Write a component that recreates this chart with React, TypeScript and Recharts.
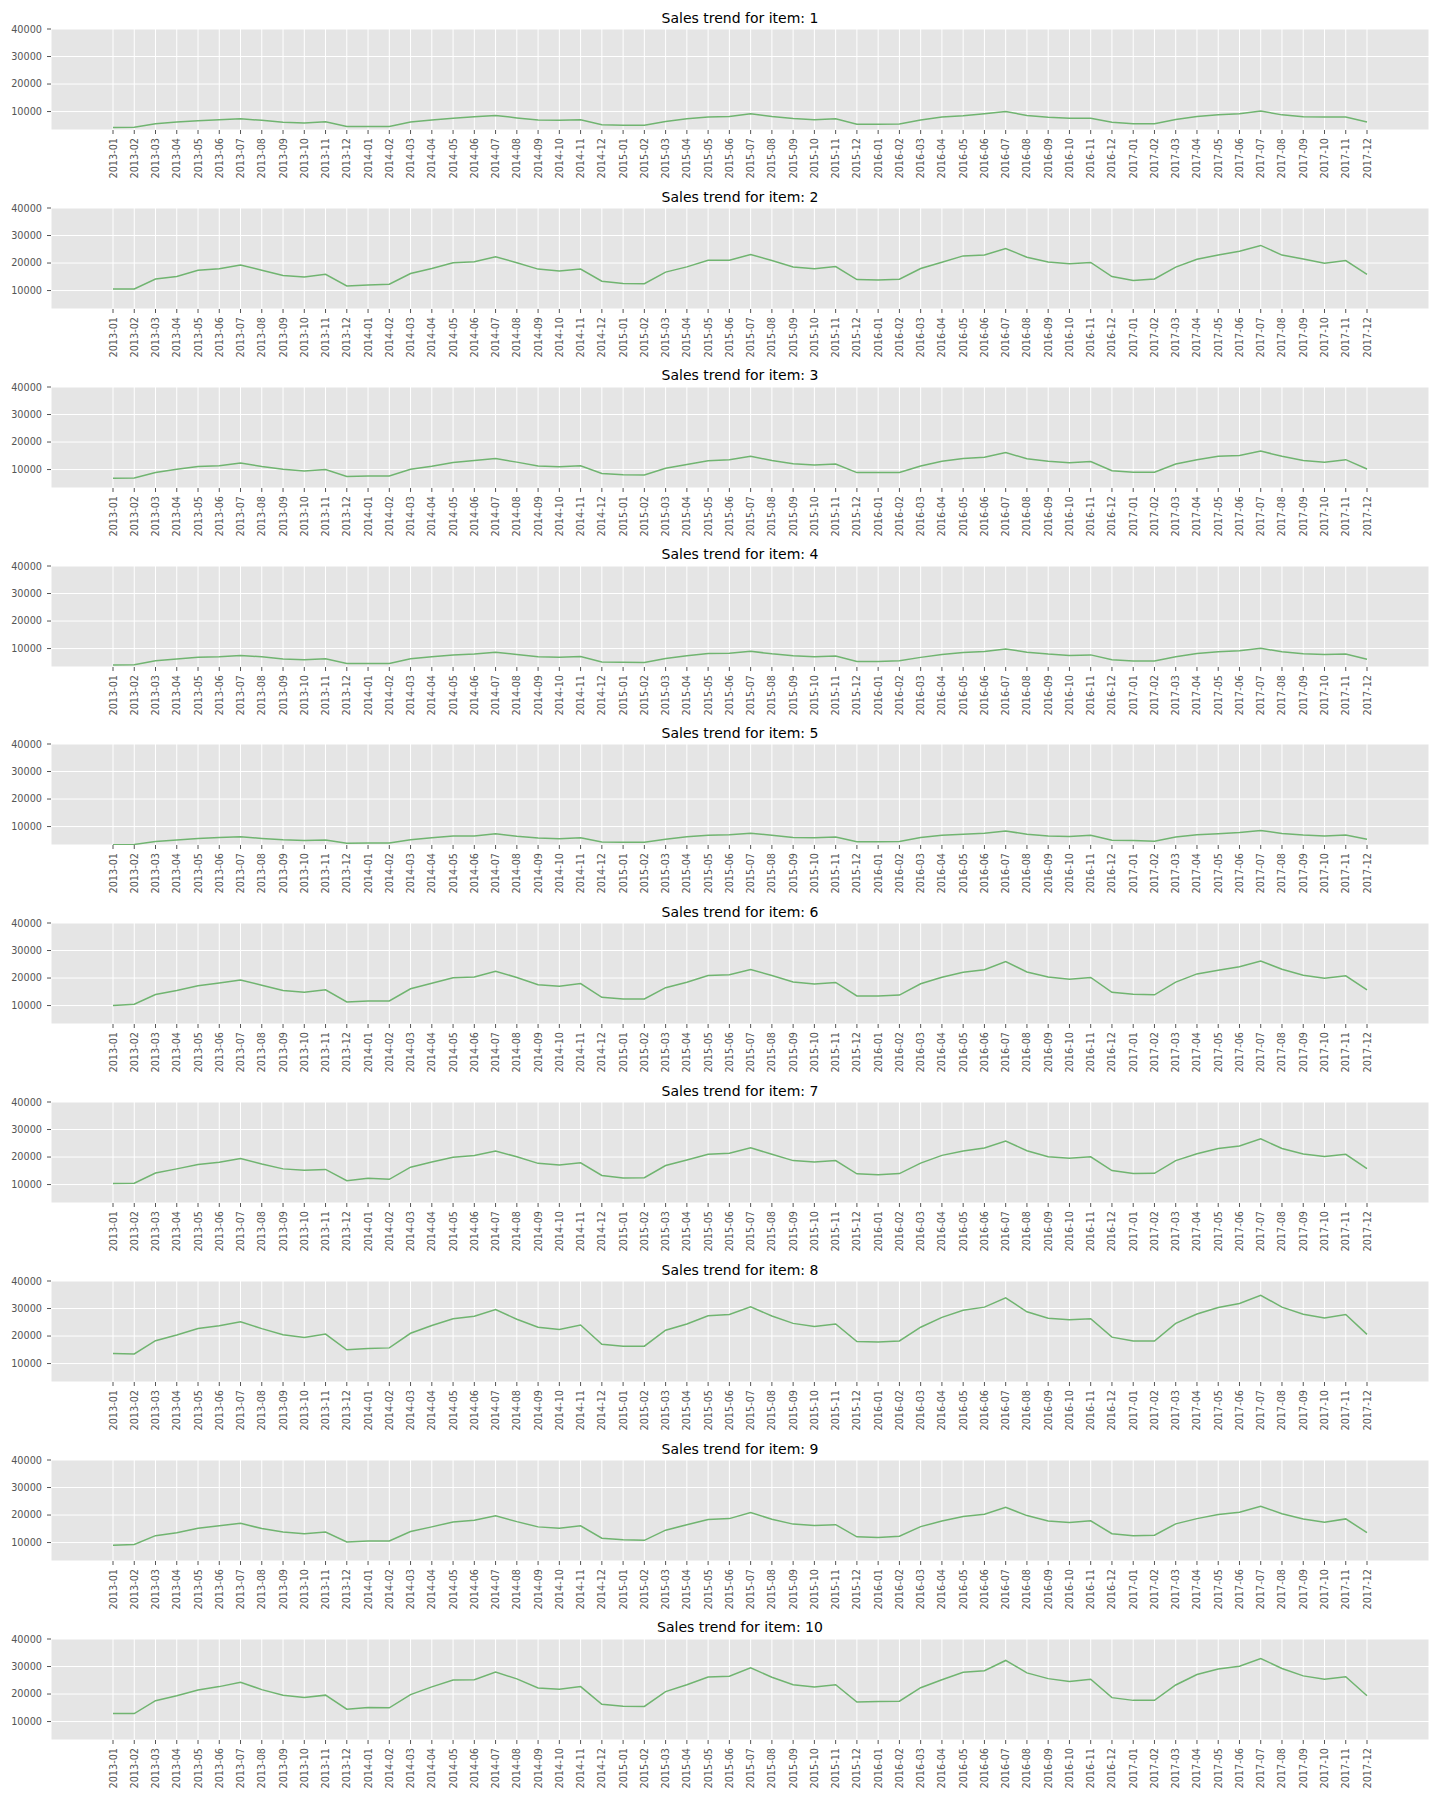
import { LineChart, Line, XAxis, YAxis, CartesianGrid } from 'recharts';

const months = [
  '2013-01', '2013-02', '2013-03', '2013-04', '2013-05', '2013-06', '2013-07', '2013-08', '2013-09', '2013-10', '2013-11', '2013-12',
  '2014-01', '2014-02', '2014-03', '2014-04', '2014-05', '2014-06', '2014-07', '2014-08', '2014-09', '2014-10', '2014-11', '2014-12',
  '2015-01', '2015-02', '2015-03', '2015-04', '2015-05', '2015-06', '2015-07', '2015-08', '2015-09', '2015-10', '2015-11', '2015-12',
  '2016-01', '2016-02', '2016-03', '2016-04', '2016-05', '2016-06', '2016-07', '2016-08', '2016-09', '2016-10', '2016-11', '2016-12',
  '2017-01', '2017-02', '2017-03', '2017-04', '2017-05', '2017-06', '2017-07', '2017-08', '2017-09', '2017-10', '2017-11', '2017-12',
];

const item1 = [
  4170, 4300, 5600, 6200, 6700, 7000, 7400, 6800, 6100, 5800, 6300, 4600,
  4600, 4600, 6200, 6900, 7600, 8100, 8600, 7700, 6900, 6800, 7000, 5200,
  5000, 5000, 6400, 7400, 8000, 8200, 9200, 8200, 7500, 7000, 7400, 5400,
  5400, 5500, 6900, 8000, 8500, 9200, 10000, 8600, 7900, 7600, 7600, 6100,
  5600, 5600, 7100, 8200, 8800, 9200, 10200, 8800, 8100, 8000, 8000, 6200,
];
const item2 = [
  10600, 10600, 14200, 15100, 17400, 17900, 19300, 17400, 15500, 14900, 15900, 11700,
  12000, 12300, 16200, 18000, 20100, 20500, 22300, 20100, 17800, 17100, 17800, 13400,
  12600, 12500, 16700, 18600, 21000, 21000, 23100, 20900, 18600, 17900, 18700, 14000,
  13800, 14100, 18000, 20300, 22600, 22900, 25300, 22100, 20400, 19700, 20200, 15100,
  13700, 14200, 18500, 21400, 22900, 24300, 26400, 22900, 21500, 19900, 20900, 15900,
];
const item3 = [
  6800, 6900, 8900, 10100, 11100, 11400, 12400, 11100, 10100, 9500, 10000, 7500,
  7700, 7700, 10100, 11200, 12600, 13300, 14000, 12700, 11300, 11000, 11400, 8600,
  8100, 8000, 10500, 11800, 13200, 13600, 14800, 13300, 12100, 11700, 12000, 8900,
  8900, 8900, 11300, 13000, 14000, 14500, 16200, 13900, 13000, 12500, 12900, 9600,
  9000, 9000, 12000, 13600, 14800, 15100, 16700, 14800, 13300, 12700, 13600, 10200,
];
const item4 = [
  4000, 4100, 5600, 6200, 6800, 7000, 7500, 7000, 6200, 5900, 6300, 4600,
  4600, 4600, 6300, 7000, 7700, 8000, 8700, 7800, 7000, 6800, 7100, 5100,
  5000, 4900, 6400, 7400, 8200, 8300, 9000, 8100, 7400, 7000, 7300, 5300,
  5300, 5600, 6800, 7800, 8600, 8900, 9800, 8700, 8000, 7500, 7700, 5900,
  5500, 5500, 7000, 8200, 8800, 9200, 10100, 8800, 8100, 7800, 8000, 6100,
];
const item5 = [
  3400, 3500, 4600, 5100, 5700, 6000, 6300, 5700, 5200, 4900, 5100, 3900,
  4000, 4000, 5200, 5900, 6600, 6600, 7400, 6500, 5800, 5600, 5900, 4400,
  4300, 4300, 5400, 6300, 6800, 7000, 7600, 6800, 6000, 5900, 6200, 4500,
  4500, 4600, 6000, 6800, 7200, 7600, 8400, 7200, 6600, 6400, 6800, 5000,
  4900, 4700, 6200, 7000, 7400, 7800, 8600, 7500, 6900, 6600, 6900, 5400,
];
const item6 = [
  10000, 10500, 14000, 15500, 17200, 18200, 19300, 17400, 15500, 14800, 15700, 11300,
  11700, 11700, 16100, 18100, 20100, 20400, 22500, 20200, 17600, 17000, 18000, 13000,
  12400, 12400, 16500, 18500, 20900, 21200, 23100, 20900, 18600, 17800, 18400, 13500,
  13500, 13800, 17900, 20300, 22100, 23000, 26000, 22200, 20400, 19600, 20200, 14800,
  14100, 13900, 18500, 21500, 22800, 24100, 26200, 23200, 21000, 19900, 20800, 15700,
];
const item7 = [
  10400, 10500, 14200, 15700, 17300, 18100, 19500, 17500, 15700, 15200, 15500, 11400,
  12300, 11900, 16300, 18200, 19900, 20600, 22200, 20100, 17700, 17100, 17900, 13300,
  12400, 12500, 16900, 18900, 21000, 21400, 23400, 21000, 18700, 18200, 18700, 13900,
  13600, 14000, 17800, 20600, 22200, 23300, 25800, 22300, 20100, 19600, 20100, 15100,
  14000, 14100, 18700, 21200, 23100, 24000, 26600, 23100, 21100, 20200, 21000, 15800,
];
const item8 = [
  13700, 13500, 18300, 20400, 22700, 23700, 25200, 22700, 20500, 19500, 20700, 15000,
  15500, 15700, 21000, 23800, 26300, 27200, 29600, 26100, 23200, 22400, 24000, 17000,
  16300, 16300, 22100, 24400, 27400, 27800, 30600, 27300, 24600, 23500, 24400, 18000,
  17800, 18200, 23200, 26800, 29400, 30500, 33900, 28800, 26500, 25900, 26300, 19600,
  18200, 18200, 24600, 28000, 30400, 31800, 34800, 30500, 27900, 26600, 27800, 20600,
];
const item9 = [
  9000, 9300, 12500, 13600, 15200, 16100, 17000, 15100, 13800, 13200, 13800, 10200,
  10600, 10600, 14000, 15700, 17500, 18100, 19700, 17600, 15700, 15200, 16100, 11600,
  11000, 10800, 14500, 16500, 18400, 18700, 20900, 18500, 16700, 16200, 16500, 12100,
  11800, 12300, 15800, 17800, 19500, 20300, 22800, 19800, 17800, 17300, 17900, 13200,
  12500, 12700, 16800, 18700, 20200, 21000, 23200, 20500, 18600, 17400, 18600, 13600,
];
const item10 = [
  12900, 12900, 17600, 19400, 21500, 22700, 24300, 21600, 19600, 18700, 19600, 14500,
  15100, 15000, 19800, 22600, 25100, 25200, 28000, 25500, 22200, 21700, 22700, 16300,
  15600, 15500, 20900, 23400, 26200, 26500, 29500, 26100, 23400, 22600, 23400, 17100,
  17300, 17400, 22300, 25200, 27900, 28500, 32200, 27700, 25600, 24600, 25400, 18700,
  17700, 17700, 23300, 27100, 29100, 30100, 32900, 29300, 26600, 25400, 26300, 19400,
];

const items = [item1, item2, item3, item4, item5, item6, item7, item8, item9, item10];
const yTicks = [10000, 20000, 30000, 40000];

const FONT = '"DejaVu Sans", sans-serif';
const PLOT_TOP = 29;
const ROW_STEP = 178.86;

const MonthTick = (props: any) => {
  const { x, y, payload } = props;
  return (
    <text
      x={x}
      y={y}
      transform={`rotate(-90, ${x}, ${y})`}
      textAnchor="end"
      dominantBaseline="central"
      fontSize={9.7}
      fill="#555555"
      fontFamily={FONT}
    >
      {payload.value}
    </text>
  );
};

function SalesPanel({ series, index }: { series: number[]; index: number }) {
  const rows = months.map((m, k) => ({ month: m, sales: series[k] }));
  const plotTop = PLOT_TOP + ROW_STEP * index;
  return (
    <>
      <div
        style={{
          position: 'absolute',
          top: plotTop - 18.3,
          left: 51,
          width: 1378,
          textAlign: 'center',
          fontFamily: FONT,
          fontSize: 14,
          lineHeight: '14px',
          color: '#000',
        }}
      >
        Sales trend for item: {index + 1}
      </div>
      <div style={{ position: 'absolute', top: plotTop - 5, left: 0 }}>
        <LineChart width={1440} height={161} data={rows} margin={{ top: 5, right: 11, bottom: 0, left: 0 }}>
          <CartesianGrid fill="#E5E5E5" stroke="#ffffff" strokeWidth={1} />
          <XAxis
            dataKey="month"
            interval={0}
            height={55}
            padding={{ left: 62, right: 62 }}
            axisLine={false}
            tickLine={{ stroke: '#555555' }}
            tickSize={4}
            tickMargin={4}
            tick={<MonthTick />}
          />
          <YAxis
            width={51}
            domain={[3300, 40000]}
            ticks={yTicks}
            allowDataOverflow
            axisLine={false}
            tickLine={{ stroke: '#555555' }}
            tickSize={4}
            tickMargin={5}
            tick={{ fontSize: 9.7, fill: '#555555', fontFamily: FONT }}
          />
          <Line
            type="linear"
            dataKey="sales"
            stroke="#70b470"
            strokeWidth={1.5}
            dot={false}
            isAnimationActive={false}
          />
        </LineChart>
      </div>
    </>
  );
}

export default function App() {
  return (
    <div
      style={{
        position: 'absolute',
        top: 0,
        left: 0,
        width: 1440,
        height: 1800,
        background: '#ffffff',
        overflow: 'hidden',
      }}
    >
      {items.map((series, i) => (
        <SalesPanel key={i} series={series} index={i} />
      ))}
    </div>
  );
}
